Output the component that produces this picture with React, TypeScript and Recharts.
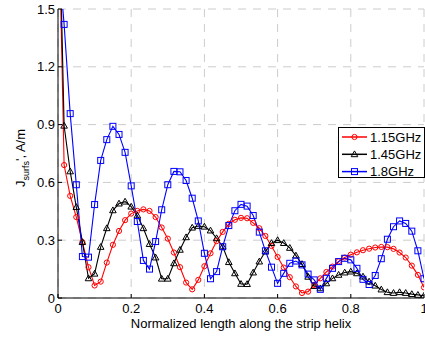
import React from "react";
import { CartesianGrid, Label, Legend, Line, LineChart, XAxis, YAxis } from "recharts";

// normalized position along the helix (61 samples)
const positions = [
  0, 0.0167, 0.0333, 0.05, 0.0667, 0.0833, 0.1, 0.1167, 0.1333, 0.15, 0.1667, 0.1833, 0.2, 0.2167, 0.2333, 0.25,
  0.2667, 0.2833, 0.3, 0.3167, 0.3333, 0.35, 0.3667, 0.3833, 0.4, 0.4167, 0.4333, 0.45, 0.4667, 0.4833, 0.5,
  0.5167, 0.5333, 0.55, 0.5667, 0.5833, 0.6, 0.6167, 0.6333, 0.65, 0.6667, 0.6833, 0.7, 0.7167, 0.7333, 0.75,
  0.7667, 0.7833, 0.8, 0.8167, 0.8333, 0.85, 0.8667, 0.8833, 0.9, 0.9167, 0.9333, 0.95, 0.9667, 0.9833, 1,
];

const ghz115 = [
  2.2, 0.69, 0.53, 0.42, 0.29, 0.16, 0.065, 0.085, 0.184, 0.276, 0.348, 0.404, 0.438, 0.452, 0.46, 0.452,
  0.42, 0.366, 0.308, 0.236, 0.16, 0.08, 0.045, 0.094, 0.165, 0.232, 0.295, 0.343, 0.385, 0.406, 0.416,
  0.414, 0.39, 0.362, 0.322, 0.27, 0.213, 0.158, 0.108, 0.06, 0.026, 0.033, 0.068, 0.102, 0.135, 0.163,
  0.19, 0.21, 0.225, 0.237, 0.248, 0.256, 0.262, 0.265, 0.264, 0.255, 0.236, 0.21, 0.168, 0.12, 0.055,
];

const ghz145 = [
  2.3, 0.894, 0.657, 0.472, 0.29, 0.102, 0.126, 0.265, 0.362, 0.455, 0.49, 0.5, 0.474, 0.428, 0.362, 0.28,
  0.21, 0.1, 0.1, 0.18, 0.25, 0.315, 0.365, 0.374, 0.37, 0.35, 0.31, 0.267, 0.186, 0.128, 0.073,
  0.072, 0.132, 0.189, 0.241, 0.285, 0.3, 0.285, 0.26, 0.22, 0.176, 0.11, 0.062, 0.05, 0.076, 0.102,
  0.12, 0.132, 0.137, 0.128, 0.111, 0.085, 0.064, 0.044, 0.03, 0.026, 0.03, 0.026, 0.02, 0.016, 0.012,
];

const ghz18 = [
  1.8, 1.42, 0.957, 0.588, 0.215, 0.212, 0.485, 0.714, 0.822, 0.891, 0.849, 0.756, 0.582, 0.397, 0.195, 0.15,
  0.293, 0.458, 0.588, 0.657, 0.655, 0.61, 0.518, 0.4, 0.232, 0.1, 0.137, 0.266, 0.376, 0.453, 0.486,
  0.477, 0.428, 0.342, 0.245, 0.16, 0.076, 0.128, 0.18, 0.192, 0.172, 0.124, 0.094, 0.045, 0.102, 0.154,
  0.189, 0.206, 0.198, 0.154, 0.097, 0.07, 0.117, 0.204, 0.305, 0.37, 0.4, 0.387, 0.347, 0.245, 0.1,
];

const seriesNames = ["1.15GHz", "1.45GHz", "1.8GHz"];
const xTicks = [0, 0.2, 0.4, 0.6, 0.8, 1];
const yTicks = [0, 0.3, 0.6, 0.9, 1.2, 1.5];

const data = positions.map((x, i) => ({
  x,
  f115: ghz115[i],
  f145: ghz145[i],
  f18: ghz18[i],
}));

const FONT = "'Liberation Sans', Arial, Helvetica, sans-serif";
const tickStyle = { fontSize: 13, fill: "#000" };

function CircleMarker(props: any) {
  const { cx, cy, index } = props;
  if (cx == null || cy == null) return null;
  return <circle key={`c${index}`} cx={cx} cy={cy} r={2.6} fill="none" stroke="#ff0000" strokeWidth={1} />;
}

function TriangleMarker(props: any) {
  const { cx, cy, index } = props;
  if (cx == null || cy == null) return null;
  const pts = `${cx},${cy - 3.4} ${cx - 3.3},${cy + 2.4} ${cx + 3.3},${cy + 2.4}`;
  return <polygon key={`t${index}`} points={pts} fill="none" stroke="#000" strokeWidth={1} />;
}

function SquareMarker(props: any) {
  const { cx, cy, index } = props;
  if (cx == null || cy == null) return null;
  return <rect key={`s${index}`} x={cx - 3} y={cy - 3} width={6} height={6} fill="none" stroke="#0000ff" strokeWidth={1} />;
}

function LegendBox() {
  const rows = [
    { name: seriesNames[0], color: "#ff0000", kind: "circle" },
    { name: seriesNames[1], color: "#000000", kind: "triangle" },
    { name: seriesNames[2], color: "#0000ff", kind: "square" },
  ];
  return (
    <svg width={88} height={52} style={{ display: "block" }}>
      <rect x={0.5} y={0.5} width={86} height={50} fill="#fff" stroke="#000" strokeWidth={1} />
      {rows.map((r, i) => {
        const cy = 10 + i * 17.3;
        return (
          <g key={r.name}>
            <line x1={4} x2={29} y1={cy} y2={cy} stroke={r.color} strokeWidth={1.5} />
            {r.kind === "circle" && <circle cx={16.5} cy={cy} r={2.6} fill="none" stroke={r.color} />}
            {r.kind === "triangle" && (
              <polygon points={`16.5,${cy - 3.4} 13.2,${cy + 2.4} 19.8,${cy + 2.4}`} fill="none" stroke={r.color} />
            )}
            {r.kind === "square" && <rect x={13.5} y={cy - 3} width={6} height={6} fill="none" stroke={r.color} />}
            <text x={32} y={cy + 4.6} fontSize={13} fill="#000">
              {r.name}
            </text>
          </g>
        );
      })}
    </svg>
  );
}

function YLabel() {
  return (
    <text x={25} y={158} transform="rotate(-90 25 158)" textAnchor="middle" fontSize={13} fill="#000">
      J
      <tspan fontSize={9} dy={3.5}>
        surfs
      </tspan>
      <tspan dy={-3.5}>', A/m</tspan>
    </text>
  );
}

export default function App() {
  return (
    <div style={{ position: "absolute", left: 0, top: 0, fontFamily: FONT, background: "#fff" }}>
      <LineChart width={425} height={337} data={data} margin={{ top: 9, right: 1, bottom: 0, left: 0 }}>
        <CartesianGrid stroke="#cccccc" strokeDasharray="8 7" />
        <XAxis
          dataKey="x"
          type="number"
          domain={[0, 1]}
          ticks={xTicks}
          interval={0}
          height={39}
          stroke="#000"
          tick={tickStyle}
          tickSize={-4}
          tickMargin={10}
          allowDataOverflow
        >
          <Label value="Normalized length along the strip helix" position="insideBottom" offset={9} fontSize={13} fill="#000" />
        </XAxis>
        <XAxis
          xAxisId="top"
          orientation="top"
          type="number"
          domain={[0, 1]}
          ticks={xTicks}
          interval={0}
          height={0}
          stroke="#000"
          tickSize={-4}
          tickFormatter={() => ""}
        />
        <YAxis
          type="number"
          domain={[0, 1.5]}
          ticks={yTicks}
          interval={0}
          width={58}
          stroke="#000"
          tick={tickStyle}
          tickSize={-4}
          tickMargin={7}
          allowDataOverflow
        >
          <Label content={() => <YLabel />} />
        </YAxis>
        <YAxis
          yAxisId="right"
          orientation="right"
          type="number"
          domain={[0, 1.5]}
          ticks={yTicks}
          interval={0}
          width={0}
          stroke="#000"
          tickSize={-4}
          tickFormatter={() => ""}
        />
        <Legend
          layout="vertical"
          align="center"
          verticalAlign="middle"
          wrapperStyle={{ top: 127, left: 338, width: 88 }}
          content={() => <LegendBox />}
        />
        <Line
          dataKey="f115"
          name={seriesNames[0]}
          stroke="#ff0000"
          strokeWidth={1.1}
          dot={CircleMarker}
          isAnimationActive={false}
        />
        <Line
          dataKey="f145"
          name={seriesNames[1]}
          stroke="#000000"
          strokeWidth={1.1}
          dot={TriangleMarker}
          isAnimationActive={false}
        />
        <Line
          dataKey="f18"
          name={seriesNames[2]}
          stroke="#0000ff"
          strokeWidth={1.1}
          dot={SquareMarker}
          isAnimationActive={false}
        />
      </LineChart>
    </div>
  );
}
